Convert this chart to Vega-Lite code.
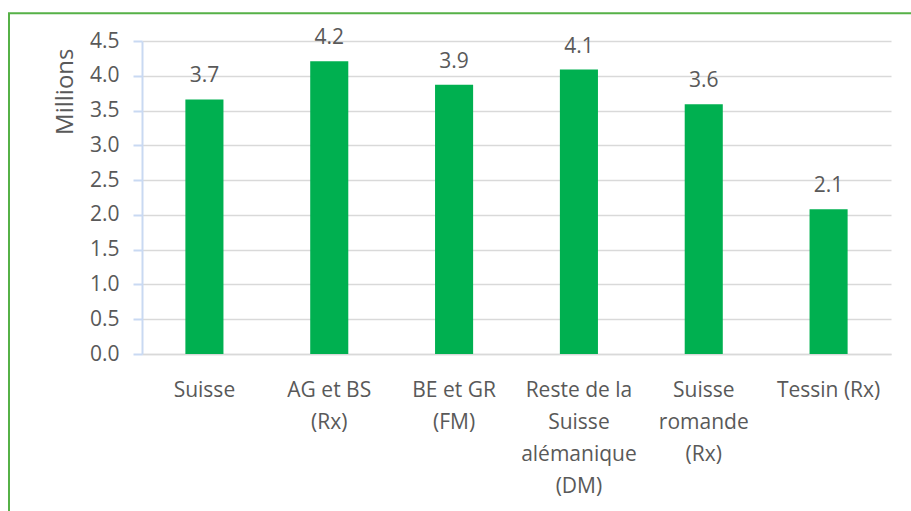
{
  "$schema": "https://vega.github.io/schema/vega-lite/v6.json",
  "width": 749,
  "height": 313,
  "autosize": {"type": "none"},
  "padding": {"left": 142, "top": 41, "right": 20, "bottom": 157},
  "background": "white",
  "config": {"view": {"stroke": null}, "font": "Open Sans"},
  "data": {
    "values": [
      {"region": "Suisse", "value": 3.66},
      {"region": "AG et BS\n(Rx)", "value": 4.21},
      {"region": "BE et GR\n(FM)", "value": 3.87},
      {"region": "Reste de la\nSuisse\nalémanique\n(DM)", "value": 4.09},
      {"region": "Suisse\nromande\n(Rx)", "value": 3.59},
      {"region": "Tessin (Rx)", "value": 2.08}
    ]
  },
  "layer": [
    {
      "mark": {"type": "bar", "color": "#00B050"},
      "encoding": {
        "x": {
          "field": "region",
          "type": "nominal",
          "sort": null,
          "scale": {"paddingInner": 0.695, "paddingOuter": 0.3475},
          "axis": {
            "title": null,
            "labelAngle": 0,
            "labelExpr": "split(datum.label, '\\n')",
            "labelFontSize": 21,
            "labelColor": "#595959",
            "labelLineHeight": 32,
            "labelPadding": 25,
            "labelLimit": 0,
            "labelOverlap": false,
            "ticks": false,
            "domain": true,
            "domainColor": "#D9D9D9",
            "domainWidth": 1.5
          }
        },
        "y": {
          "field": "value",
          "type": "quantitative",
          "scale": {"domain": [0, 4.5]},
          "axis": {
            "values": [0, 0.5, 1, 1.5, 2, 2.5, 3, 3.5, 4, 4.5],
            "tickCount": 10,
            "format": ".1f",
            "title": "Millions",
            "grid": true,
            "gridColor": "#D9D9D9",
            "gridWidth": 1.5,
            "domainColor": "#C9D9F2",
            "domainWidth": 2,
            "tickColor": "#C9D9F2",
            "tickSize": 9,
            "tickWidth": 2,
            "labelPadding": 14,
            "labelFontSize": 21,
            "labelColor": "#595959",
            "labelOverlap": false,
            "titleFontSize": 24,
            "titleColor": "#595959",
            "titleFontWeight": "normal",
            "titleAnchor": "end",
            "titleY": 7,
            "titlePadding": 12
          }
        }
      }
    },
    {
      "mark": {"type": "text", "baseline": "alphabetic", "dy": -17, "fontSize": 21, "color": "#595959"},
      "encoding": {
        "x": {"field": "region", "type": "nominal", "sort": null},
        "y": {"field": "value", "type": "quantitative", "axis": {"values": [0, 0.5, 1, 1.5, 2, 2.5, 3, 3.5, 4, 4.5], "tickCount": 10}},
        "text": {"field": "value", "type": "quantitative", "format": ".1f"}
      }
    },
    {
      "data": {"values": [{}]},
      "mark": {"type": "rect", "fill": null, "stroke": "#56B147", "strokeWidth": 2, "xOffset": 31, "x2Offset": -133},
      "encoding": {
        "x2": {"value": 0},
        "y": {"datum": 4.9, "type": "quantitative", "axis": {"values": [0, 0.5, 1, 1.5, 2, 2.5, 3, 3.5, 4, 4.5], "tickCount": 10}},
        "y2": {"datum": -2.6}
      }
    }
  ]
}
